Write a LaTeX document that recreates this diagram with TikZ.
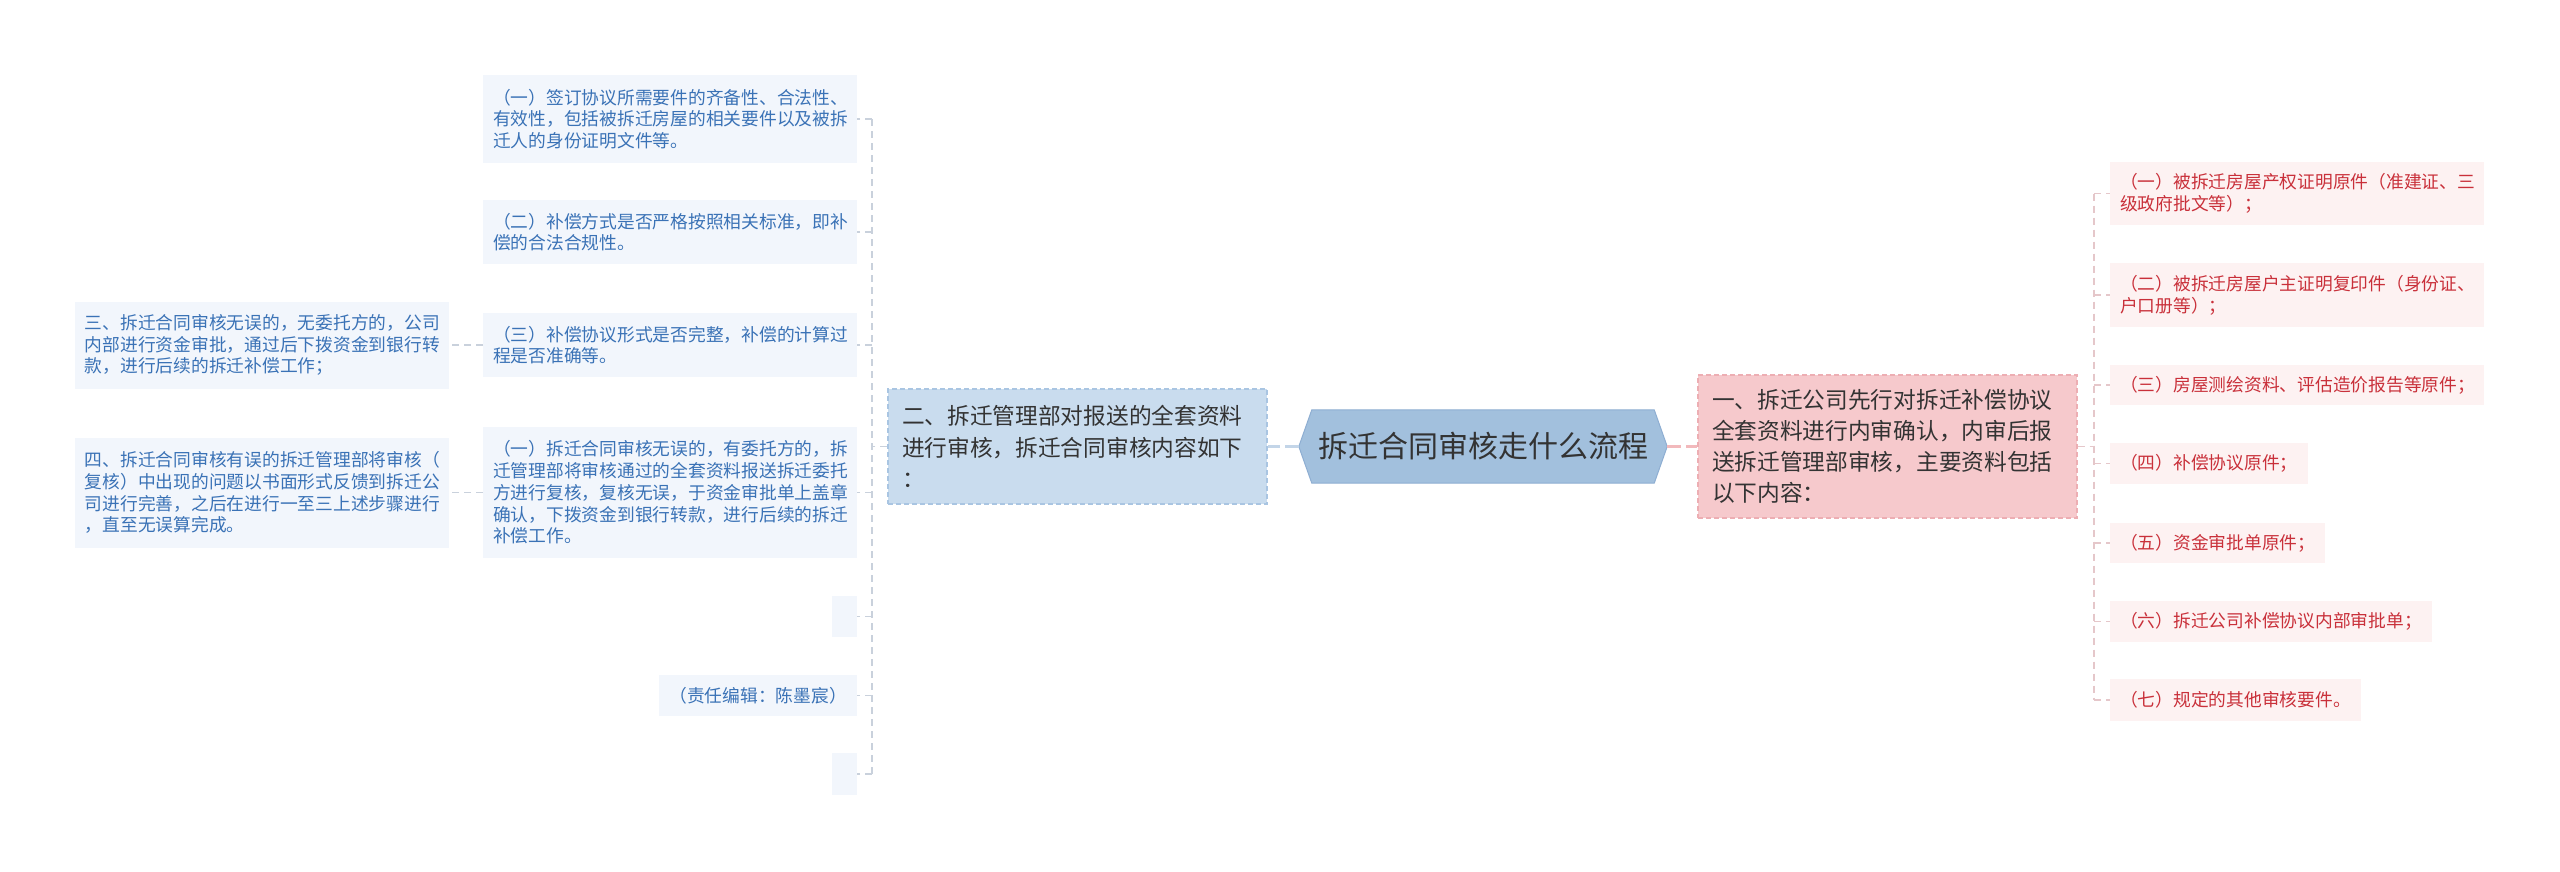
\documentclass[tikz,border=0pt]{standalone}
\usepackage{fontspec}
\setmainfont{Noto Sans CJK SC}
\usetikzlibrary{backgrounds}
\definecolor{lbluetext}{HTML}{3A72B6}
\definecolor{lbluebg}{HTML}{F2F6FC}
\definecolor{lconncol}{HTML}{C9D1DC}
\definecolor{bfill}{HTML}{C9DCEE}
\definecolor{bborder}{HTML}{A9C5E2}
\definecolor{hexfill}{HTML}{A2C0DD}
\definecolor{hexborder}{HTML}{8EAED2}
\definecolor{bcline}{HTML}{C3D5E8}
\definecolor{pfill}{HTML}{F6C9CC}
\definecolor{pborder}{HTML}{EDAEB3}
\definecolor{cpline}{HTML}{F2B9BC}
\definecolor{rredtext}{HTML}{C9303A}
\definecolor{rredbg}{HTML}{FDF2F2}
\definecolor{rconncol}{HTML}{E5C7CA}
\definecolor{darktext}{HTML}{333333}
\tikzset{
  smallfont/.style={font=\fontsize{17.75}{21.7}\selectfont},
  lleaf/.style={smallfont, fill=lbluebg, text=lbluetext, inner xsep=10pt, inner ysep=0pt, align=left},
  lwide/.style={lleaf, text width=354pt},
  rleaf/.style={smallfont, fill=rredbg, text=rredtext, inner xsep=10pt, inner ysep=0pt, align=left, anchor=west},
  rwide/.style={rleaf, text width=354pt},
  mainbox/.style={font=\fontsize{22.7}{31.2}\selectfont, text=darktext, inner xsep=14pt, inner ysep=0pt, text width=351pt, align=left, dash pattern=on 5pt off 3pt, line width=1.2pt},
  lconn/.style={draw=lconncol, line width=1.4pt, dash pattern=on 7pt off 5pt},
  rconn/.style={draw=rconncol, line width=1.4pt, dash pattern=on 7pt off 5pt},
}
\begin{document}
\begin{tikzpicture}[x=1pt,y=-1pt]
\useasboundingbox (0,0) rectangle (2560,871);

% centre
\node[font=\fontsize{30}{36}\selectfont, text=darktext, minimum width=368pt, minimum height=73pt, inner sep=0pt] (c) at (1483,446.5) {拆迁合同审核走什么流程};
\begin{scope}[on background layer]
\fill[white] (0,0) rectangle (2560,871);
\path[fill=hexfill, draw=hexborder, line width=1pt] (c.west) -- ([xshift=13pt]c.north west) -- ([xshift=-13pt]c.north east) -- (c.east) -- ([xshift=-13pt]c.south east) -- ([xshift=13pt]c.south west) -- cycle;
\end{scope}

% level 1
\node[mainbox, fill=bfill, draw=bborder, minimum height=115pt] (b) at (1077.5,446.5) {二、拆迁管理部对报送的全套资料\\进行审核，拆迁合同审核内容如下\\：};
\node[mainbox, fill=pfill, draw=pborder, minimum height=143pt] (p) at (1887.5,446.5) {一、拆迁公司先行对拆迁补偿协议\\全套资料进行内审确认，内审后报\\送拆迁管理部审核，主要资料包括\\以下内容：};

\draw[draw=bcline, line width=2.5pt, dash pattern=on 14pt off 5pt] (c.west) -- (b.east);
\draw[draw=cpline, line width=2.5pt, dash pattern=on 14pt off 5pt] (c.east) -- (p.west);

% left children
\node[lwide, anchor=west, minimum height=88pt] (a1) at (483,119) {（一）签订协议所需要件的齐备性、合法性、\\有效性，包括被拆迁房屋的相关要件以及被拆\\迁人的身份证明文件等。};
\node[lwide, anchor=west, minimum height=64pt] (a2) at (483,232) {（二）补偿方式是否严格按照相关标准，即补\\偿的合法合规性。};
\node[lwide, anchor=west, minimum height=64pt] (a3) at (483,345) {（三）补偿协议形式是否完整，补偿的计算过\\程是否准确等。};
\node[lwide, anchor=west, minimum height=131pt] (a4) at (483,492.5) {（一）拆迁合同审核无误的，有委托方的，拆\\迁管理部将审核通过的全套资料报送拆迁委托\\方进行复核，复核无误，于资金审批单上盖章\\确认，下拨资金到银行转款，进行后续的拆迁\\补偿工作。};
\node[lleaf, anchor=east, inner xsep=0pt, minimum width=25pt, minimum height=41pt] (a5) at (857,616.5) {};
\node[lleaf, anchor=east, minimum height=41pt] (a6) at (857,695.5) {（责任编辑：陈墨宸）};
\node[lleaf, anchor=east, inner xsep=0pt, minimum width=25pt, minimum height=42pt] (a7) at (857,774) {};

% left grandchildren
\node[lwide, anchor=east, minimum height=87pt] (l3) at (449,345) {三、拆迁合同审核无误的，无委托方的，公司\\内部进行资金审批，通过后下拨资金到银行转\\款，进行后续的拆迁补偿工作；};
\node[lwide, anchor=east, minimum height=110pt] (l4) at (449,492.5) {四、拆迁合同审核有误的拆迁管理部将审核（\\复核）中出现的问题以书面形式反馈到拆迁公\\司进行完善，之后在进行一至三上述步骤进行\\，直至无误算完成。};

% left connectors
\coordinate (ls) at (872,446.5);
\draw[lconn] (b.west) -- (ls);
\draw[lconn] (ls |- a1.east) -- (ls |- a7.east);
\foreach \n in {a1,a2,a3,a4,a5,a6,a7} \draw[lconn] (ls |- \n.east) -- (\n.east);
\draw[lconn] (a3.west) -- (l3.east);
\draw[lconn] (a4.west) -- (l4.east);

% right children
\node[rwide, minimum height=63pt] (r1) at (2110,193.5) {（一）被拆迁房屋产权证明原件（准建证、三\\级政府批文等）；};
\node[rwide, minimum height=64pt] (r2) at (2110,295) {（二）被拆迁房屋户主证明复印件（身份证、\\户口册等）；};
\node[rwide, minimum height=40pt] (r3) at (2110,385) {（三）房屋测绘资料、评估造价报告等原件；};
\node[rleaf, minimum height=41pt] (r4) at (2110,463.5) {（四）补偿协议原件；};
\node[rleaf, minimum height=40pt] (r5) at (2110,543) {（五）资金审批单原件；};
\node[rleaf, minimum height=41pt] (r6) at (2110,621.5) {（六）拆迁公司补偿协议内部审批单；};
\node[rleaf, minimum height=42pt] (r7) at (2110,700) {（七）规定的其他审核要件。};

\coordinate (rs) at (2094,446.5);
\draw[rconn] (p.east) -- (rs);
\draw[rconn] (rs |- r1.west) -- (rs |- r7.west);
\foreach \n in {r1,r2,r3,r4,r5,r6,r7} \draw[rconn] (rs |- \n.west) -- (\n.west);
\end{tikzpicture}
\end{document}
